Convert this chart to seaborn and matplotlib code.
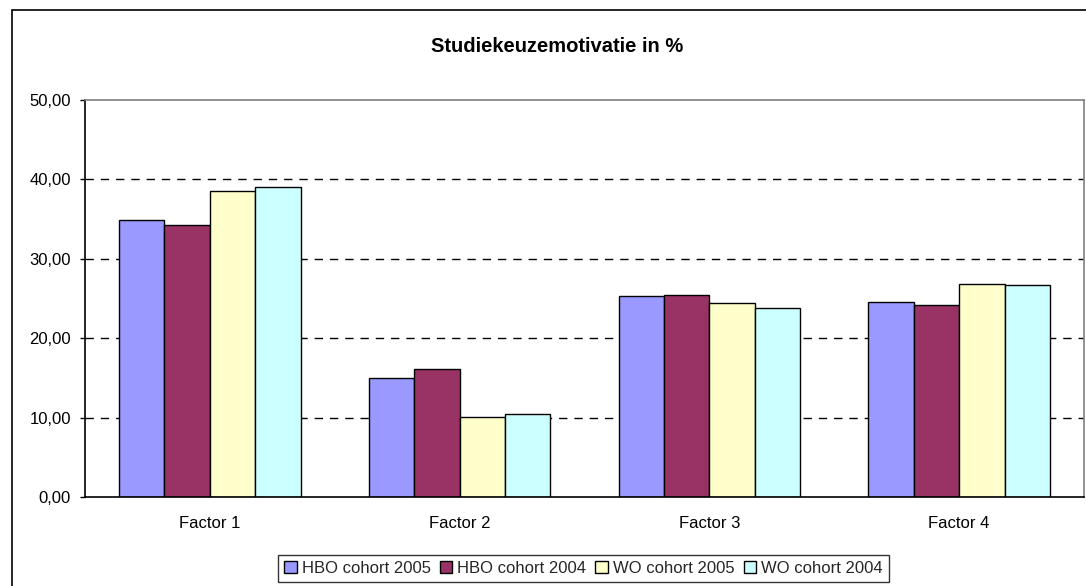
import matplotlib
matplotlib.use("Agg")
import matplotlib.pyplot as plt
import seaborn as sns
import pandas as pd
from matplotlib.patches import Patch, Rectangle
from matplotlib.ticker import FuncFormatter, FixedLocator

categories = ["Factor 1", "Factor 2", "Factor 3", "Factor 4"]
series = ["HBO cohort 2005", "HBO cohort 2004", "WO cohort 2005", "WO cohort 2004"]
hbo_2005 = [34.9, 15.0, 25.35, 24.6]
hbo_2004 = [34.2, 16.15, 25.5, 24.2]
wo_2005 = [38.5, 10.1, 24.45, 26.8]
wo_2004 = [39.05, 10.45, 23.8, 26.7]
colors = ["#9999FF", "#993366", "#FFFFCC", "#CCFFFF"]
title = "Studiekeuzemotivatie in %"

rows = []
for s, vals in zip(series, [hbo_2005, hbo_2004, wo_2005, wo_2004]):
    for c, v in zip(categories, vals):
        rows.append({"Factor": c, "Cohort": s, "Value": v})
df = pd.DataFrame(rows)

sns.set_theme(style="white")
plt.rcParams["font.family"] = ["Liberation Sans", "DejaVu Sans"]

fig = plt.figure(figsize=(10.86, 5.86), dpi=100)
ax = fig.add_axes([85/1086, 89/586, 999/1086, 397/586])

sns.barplot(data=df, x="Factor", y="Value", hue="Cohort", order=categories,
            hue_order=series, palette=colors, width=0.727, gap=0,
            edgecolor="black", linewidth=1.0, saturation=1, ax=ax, legend=False)

ax.set_xlim(-0.5, 3.5)
ax.set_ylim(0, 50)
ax.set_xlabel("")
ax.set_ylabel("")

ax.set_yticks([0, 10, 20, 30, 40, 50])
ax.yaxis.set_major_formatter(FuncFormatter(lambda v, p: f"{v:.2f}".replace(".", ",")))
for yv in [10, 20, 30, 40]:
    ax.axhline(yv, color="black", lw=1.0, ls=(0, (6, 5)), zorder=0)

ax.set_xticks(range(len(categories)))
ax.set_xticklabels(categories)
ax.xaxis.set_minor_locator(FixedLocator([-0.5, 0.5, 1.5, 2.5, 3.5]))
ax.tick_params(axis="x", which="major", length=0, pad=14, labelsize=12, colors="black")
ax.tick_params(axis="x", which="minor", length=3.6, width=1, color="black", direction="out")
ax.tick_params(axis="y", which="major", length=3.6, width=1, color="black", direction="out",
               pad=6.5, labelsize=12, labelcolor="black", left=True)

for side in ["left", "bottom"]:
    ax.spines[side].set_color("black")
    ax.spines[side].set_linewidth(1.2)
for side in ["top", "right"]:
    ax.spines[side].set_color("#808080")
    ax.spines[side].set_linewidth(1.2)
    ax.spines[side].set_visible(True)

fig.text(557/1086, 1 - 46/586, title, ha="center", va="center",
         fontsize=14.5, fontweight="bold", color="black")

handles = [Patch(facecolor=c, edgecolor="black", linewidth=1.0, label=s)
           for c, s in zip(colors, series)]
leg = fig.legend(handles=handles, loc="center", bbox_to_anchor=(583.5/1086, 1 - 568.5/586),
                 ncol=4, frameon=True, fontsize=12, handlelength=0.75, handleheight=0.75,
                 handletextpad=0.3, columnspacing=0.55, borderpad=0.35, fancybox=False)
leg.get_frame().set_edgecolor("black")
leg.get_frame().set_linewidth(1.0)

fig.patches.append(Rectangle((12/1086, -0.1), 1.2, 1 - 10/586 + 0.1, transform=fig.transFigure,
                             fill=False, edgecolor="black", linewidth=1.2))

fig.savefig("out.png", dpi=100)
